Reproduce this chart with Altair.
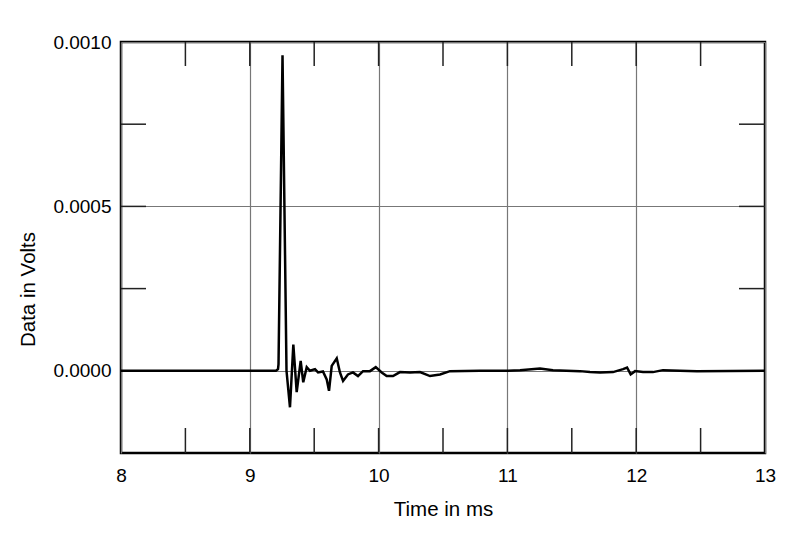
import altair as alt
import pandas as pd

# Impulse response trace (time in ms, data in volts)
t_ms = [8.0, 9.203, 9.219, 9.223, 9.254, 9.285, 9.312, 9.338, 9.364, 9.395, 9.415,
        9.442, 9.467, 9.506, 9.530, 9.568, 9.597, 9.615, 9.636, 9.675, 9.700,
        9.724, 9.762, 9.801, 9.840, 9.879, 9.933, 9.978, 10.024, 10.063, 10.112,
        10.166, 10.244, 10.321, 10.399, 10.477, 10.554, 10.787, 11.005, 11.098,
        11.253, 11.354, 11.564, 11.641, 11.719, 11.820, 11.898, 11.929, 11.957,
        11.991, 12.053, 12.130, 12.208, 12.472, 13.0]
volts_uv = [0, 0, 5, 20, 960, 0, -111, 80, -65, 30, -35,
            11, 0, 5, -5, -2, -26, -61, 15, 38, -5,
            -31, -11, -5, -16, -1, -1, 11, -5, -16, -16,
            -4, -5, -4, -16, -11, -1, 0, 0, 2,
            7, 2, -1, -4, -5, -4, 5, 10, -11,
            -1, -4, -4, 2, -1, 0]

x_label_values = [8, 9, 10, 11, 12, 13]
x_tick_values = [8.5, 9, 9.5, 10, 10.5, 11, 11.5, 12, 12.5]
y_label_values = [0.0, 0.0005, 0.0010]
y_tick_values = [0.0, 0.00025, 0.0005, 0.00075]

W, H = 644, 411
FONT = "Liberation Sans"

df = pd.DataFrame({"t": t_ms, "v": [u * 1e-6 for u in volts_uv]})
xt = pd.DataFrame({"x": x_tick_values})
yt = pd.DataFrame({"y": y_tick_values})

xscale = alt.Scale(domain=[8, 13], nice=False, zero=False)
yscale = alt.Scale(domain=[-0.00025, 0.001], nice=False, zero=False)

line = alt.Chart(df).mark_line(color="black", strokeWidth=2.5).encode(
    x=alt.X("t:Q", scale=xscale, title="Time in ms",
            axis=alt.Axis(values=x_label_values, format="d", grid=True, gridColor="#777777",
                          gridWidth=1.2, ticks=False, tickSize=0, domain=False,
                          labelFlush=False, labelPadding=13, titlePadding=14)),
    y=alt.Y("v:Q", scale=yscale, title="Data in Volts",
            axis=alt.Axis(values=y_label_values, format=".4f", grid=True, gridColor="#777777",
                          gridWidth=1.2, ticks=False, tickSize=0, domain=False,
                          labelFlush=False, labelPadding=10, titlePadding=14,
                          titleY=247)),
)

tick_style = dict(color="#222222", strokeWidth=1.5)
bottom_ticks = alt.Chart(xt).mark_rule(**tick_style).encode(
    x=alt.X("x:Q", scale=xscale), y=alt.value(H - 25), y2=alt.value(H))
top_ticks = alt.Chart(xt).mark_rule(**tick_style).encode(
    x=alt.X("x:Q", scale=xscale), y=alt.value(0), y2=alt.value(24))
left_ticks = alt.Chart(yt).mark_rule(**tick_style).encode(
    y=alt.Y("y:Q", scale=yscale), x=alt.value(0), x2=alt.value(25))
right_ticks = alt.Chart(yt).mark_rule(**tick_style).encode(
    y=alt.Y("y:Q", scale=yscale), x=alt.value(W - 26), x2=alt.value(W))

chart = alt.layer(bottom_ticks, top_ticks, left_ticks, right_ticks, line).properties(
    width=W, height=H,
    autosize=alt.AutoSizeParams(type="none"),
    padding={"left": 113, "top": 34, "right": 35, "bottom": 79},
    background="white",
).configure_view(
    stroke="black", strokeWidth=2.5
).configure_axis(
    labelFont=FONT, titleFont=FONT, labelFontSize=19, titleFontSize=20.5,
    labelColor="black", titleColor="black", titleFontWeight="normal",
)

chart.save("out.html", embed_options={"renderer": "svg", "actions": False})
